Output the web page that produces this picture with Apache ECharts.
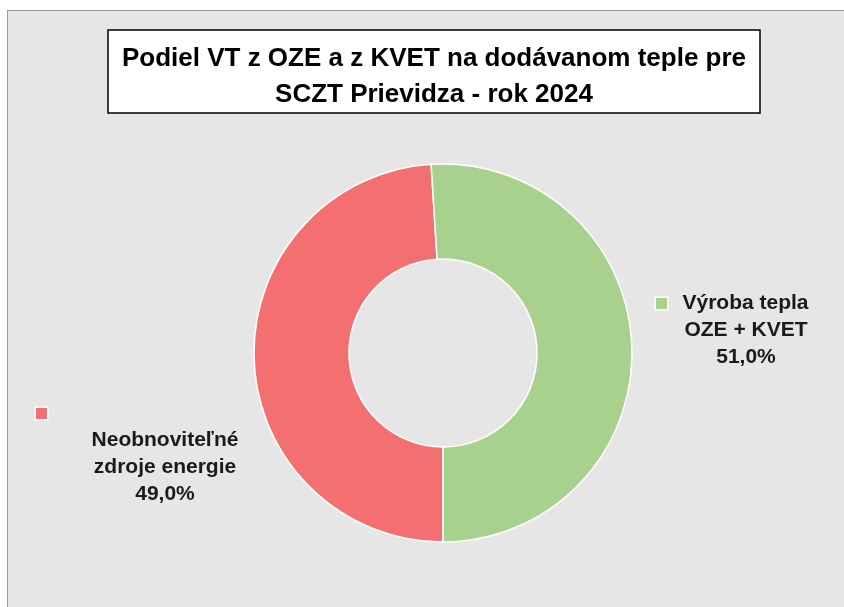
<!DOCTYPE html>
<html>
<head>
<meta charset="utf-8">
<script src="https://cdn.jsdelivr.net/npm/echarts@6/dist/echarts.min.js"></script>
<style>
  html, body { margin: 0; padding: 0; background: #ffffff; }
  #main {
    position: absolute; left: 7px; top: 10px;
    width: 837px; height: 597px;
    border-left: 1px solid #9a9a9a; border-top: 1px solid #9a9a9a;
  }
</style>
</head>
<body>
<div id="main"></div>
<script>
// data
const categories = ['Neobnoviteľné zdroje energie', 'Výroba tepla OZE + KVET'];
const shares = [49.0, 51.0];
const labelLines = [
  ['Neobnoviteľné', 'zdroje energie'],
  ['Výroba tepla', 'OZE + KVET']
];
const colors = ['#f46f6f', '#a9d18e'];
const titleText = 'Podiel VT z OZE a z KVET na dodávanom teple pre\nSCZT Prievidza - rok 2024';

var chartDom = document.getElementById('main');
var myChart = echarts.init(chartDom);
var font = '"Liberation Sans", Arial, sans-serif';

function pct(v) {
  return v.toFixed(1).replace('.', ',') + '%';
}

var option = {
  backgroundColor: '#e6e6e6',
  animation: false,
  title: {
    text: titleText,
    left: 412,
    top: 19,
    textAlign: 'center',
    padding: [11, 14, 0, 14],
    backgroundColor: '#ffffff',
    borderColor: '#000000',
    borderWidth: 1.5,
    textStyle: {
      fontFamily: font,
      fontSize: 26,
      fontWeight: 'bold',
      color: '#000000',
      lineHeight: 36
    }
  },
  series: [
    {
      type: 'pie',
      center: [435, 342],
      radius: [94, 189],
      startAngle: 270,
      clockwise: true,
      silent: true,
      itemStyle: { borderColor: '#ffffff', borderWidth: 1.5 },
      labelLine: { show: false },
      label: {
        show: true,
        position: 'outside',
        formatter: function (p) {
          var lines = labelLines[p.dataIndex];
          if (p.dataIndex === 0) {
            return '{m0|}\n{t|' + lines[0] + '}\n{t|' + lines[1] + '}\n{t|' + pct(p.value) + '}';
          }
          return '{m1|}{t|' + lines[0] + '}{s|}\n{t|' + lines[1] + '}\n{t|' + pct(p.value) + '}';
        },
        rich: {
          t: {
            fontFamily: font, fontSize: 21, fontWeight: 'bold',
            color: '#1a1a1a', lineHeight: 27, align: 'center'
          },
          s: { width: 12, height: 11, align: 'right', lineHeight: 27 },
          m0: {
            width: 11, height: 11, backgroundColor: colors[0],
            borderColor: '#ffffff', borderWidth: 1.5, align: 'left', lineHeight: 27
          },
          m1: {
            width: 11, height: 11, backgroundColor: colors[1],
            borderColor: '#ffffff', borderWidth: 1.5, align: 'left', lineHeight: 27
          }
        }
      },
      labelLayout: function (params) {
        if (params.dataIndex === 0) {
          return { x: 28, y: 389, align: 'left', verticalAlign: 'top', width: 258 };
        }
        return { x: 648, y: 279, align: 'left', verticalAlign: 'top', width: 180 };
      },
      data: categories.map(function (c, i) {
        return { name: c, value: shares[i], itemStyle: { color: colors[i] } };
      })
    }
  ]
};

option && myChart.setOption(option);
</script>
</body>
</html>
